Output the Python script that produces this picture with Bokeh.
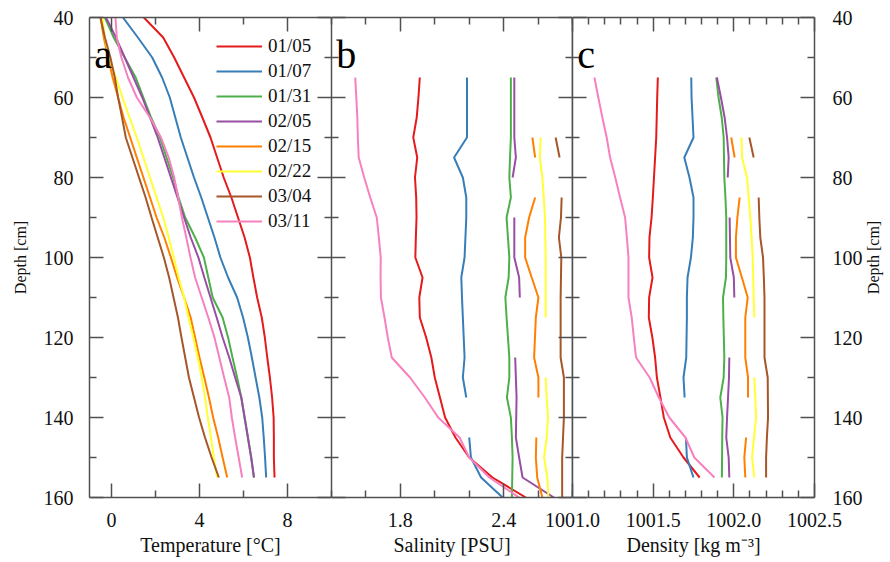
import math
from bokeh.plotting import figure
from bokeh.models import Range1d, LinearAxis, FixedTicker, PrintfTickFormatter, Legend, LegendItem, Label
from bokeh.layouts import row
from bokeh.embed import file_html
from bokeh.resources import INLINE

nan = float("nan")

DATES = ["01/05", "01/07", "01/31", "02/05", "02/15", "02/22", "03/04", "03/11"]
COLORS = ["#e41a1c", "#377eb8", "#4daf4a", "#984ea3", "#ff7f00", "#ffff33", "#a65628", "#f781bf"]

# ---------------- Temperature (panel a) ----------------
DEPTH_T = [40, 45, 50, 55, 60, 65, 70, 75, 80, 85, 90, 95, 100, 105, 110, 115, 120, 125, 130, 135, 140, 145, 150, 155]
TEMP_0105 = [1.47, 2.35, 2.85, 3.30, 3.75, 4.13, 4.50, 4.80, 5.10, 5.45, 5.75, 6.05, 6.29, 6.45, 6.62, 6.83, 6.97, 7.08, 7.20, 7.30, 7.37, 7.38, 7.38, 7.41]
TEMP_0107 = [0.52, 1.20, 1.85, 2.30, 2.65, 2.90, 3.15, 3.45, 3.75, 4.08, 4.38, 4.68, 4.95, 5.30, 5.71, 5.98, 6.20, 6.38, 6.55, 6.72, 6.85, 6.92, 6.98, 7.03]
TEMP_0131 = [-0.30, 0.10, 0.60, 1.10, 1.45, 1.80, 2.20, 2.50, 2.80, 3.05, 3.35, 3.80, 4.20, 4.40, 4.60, 5.05, 5.30, 5.50, 5.71, 5.90, 6.05, 6.20, 6.35, 6.47]
TEMP_0205 = [-0.25, 0.20, 0.60, 1.00, 1.40, 1.75, 2.10, 2.40, 2.70, 3.00, 3.30, 3.60, 3.95, 4.22, 4.50, 4.78, 5.05, 5.35, 5.62, 5.90, 6.05, 6.20, 6.35, 6.48]
TEMP_0215 = [-0.50, -0.35, -0.15, 0.05, 0.30, 0.55, 0.85, 1.15, 1.45, 1.75, 2.05, 2.40, 2.70, 2.98, 3.30, 3.60, 3.80, 4.00, 4.22, 4.43, 4.62, 4.85, 5.05, 5.26]
TEMP_0222 = [-0.42, -0.30, -0.10, 0.20, 0.50, 0.82, 1.15, 1.45, 1.75, 2.05, 2.35, 2.60, 2.83, 3.05, 3.30, 3.50, 3.72, 3.92, 4.10, 4.25, 4.38, 4.52, 4.65, 4.80]
TEMP_0304 = [-0.50, -0.30, -0.05, 0.15, 0.30, 0.48, 0.65, 0.95, 1.25, 1.55, 1.82, 2.10, 2.38, 2.62, 2.82, 3.02, 3.18, 3.35, 3.52, 3.75, 3.98, 4.25, 4.55, 4.88]
TEMP_0311 = [0.18, 0.24, 0.45, 0.75, 1.15, 1.75, 2.25, 2.60, 2.85, 3.03, 3.20, 3.40, 3.59, 3.80, 4.10, 4.40, 4.68, 4.90, 5.12, 5.35, 5.47, 5.62, 5.78, 5.94]

# ---------------- Salinity (panel b) ----------------
DEPTH_S = [55, 60, 65, 70, 75, 80, 85, 90, 95, 100, 105, 110, 115, 120, 125, 130, 135, 140, 145, 150, 155, 160]
SAL_0105 = [1.913, 1.905, 1.895, 1.875, 1.898, 1.885, 1.892, 1.894, 1.890, 1.887, 1.929, 1.910, 1.913, 1.950, 1.980, 2.000, 2.030, 2.060, 2.120, 2.200, 2.335, 2.529]
SAL_0107 = [2.187, 2.187, 2.187, 2.187, 2.112, 2.163, 2.183, 2.183, 2.178, 2.173, 2.154, 2.158, 2.163, 2.168, 2.173, 2.163, 2.183, nan, 2.200, 2.210, 2.269, 2.394]
SAL_0131 = [2.442, 2.442, 2.442, 2.442, 2.437, 2.433, 2.442, 2.417, 2.425, 2.433, 2.429, 2.410, 2.417, 2.425, 2.433, 2.433, 2.419, 2.442, 2.448, 2.452, 2.450, 2.448]
SAL_0205 = [2.462, 2.462, 2.462, 2.462, 2.471, 2.452, nan, 2.462, 2.462, 2.462, 2.490, 2.494, nan, nan, 2.467, 2.471, 2.475, 2.473, 2.471, 2.490, 2.510, 2.692]
SAL_0215 = [nan, nan, nan, 2.567, 2.583, nan, 2.583, 2.548, 2.525, 2.525, 2.563, 2.602, 2.587, 2.582, 2.577, 2.602, 2.602, nan, 2.590, 2.587, 2.595, 2.625]
SAL_0222 = [nan, nan, nan, 2.615, 2.610, 2.625, 2.633, 2.640, 2.642, 2.644, 2.644, 2.644, 2.644, nan, nan, 2.644, 2.650, 2.658, 2.650, 2.635, 2.654, 2.660]
SAL_0304 = [nan, nan, nan, 2.702, 2.725, nan, 2.737, 2.733, 2.721, 2.735, 2.733, 2.731, 2.731, 2.731, 2.731, 2.750, 2.750, 2.750, 2.745, 2.740, 2.740, 2.740]
SAL_0311 = [1.538, 1.544, 1.550, 1.553, 1.558, 1.590, 1.625, 1.663, 1.675, 1.686, 1.685, 1.687, 1.708, 1.727, 1.750, 1.856, 1.942, 2.020, 2.144, 2.200, 2.317, 2.490]

# ---------------- Density (panel c) ----------------
DEPTH_D = [55, 60, 65, 70, 75, 80, 85, 90, 95, 100, 105, 110, 115, 120, 125, 130, 135, 140, 145, 150, 155]
DEN_0105 = [1001.529, 1001.525, 1001.522, 1001.519, 1001.512, 1001.505, 1001.498, 1001.490, 1001.477, 1001.475, 1001.496, 1001.475, 1001.473, 1001.495, 1001.512, 1001.523, 1001.545, 1001.566, 1001.606, 1001.688, 1001.788]
DEN_0107 = [1001.736, 1001.738, 1001.744, 1001.750, 1001.693, 1001.725, 1001.750, 1001.750, 1001.746, 1001.734, 1001.713, 1001.709, 1001.709, 1001.707, 1001.705, 1001.688, 1001.695, nan, 1001.703, 1001.709, 1001.750]
DEN_0131 = [1001.891, 1001.905, 1001.925, 1001.937, 1001.939, 1001.941, 1001.948, 1001.953, 1001.953, 1001.953, 1001.951, 1001.933, 1001.935, 1001.938, 1001.941, 1001.937, 1001.916, 1001.930, 1001.928, 1001.927, 1001.926]
DEN_0205 = [1001.895, 1001.920, 1001.943, 1001.958, 1001.968, 1001.962, nan, 1001.974, 1001.976, 1001.978, 1002.000, 1002.003, nan, nan, 1001.972, 1001.970, 1001.964, 1001.958, 1001.953, 1001.968, 1001.972]
DEN_0215 = [nan, nan, nan, 1001.984, 1002.005, nan, 1002.036, 1002.022, 1002.013, 1002.013, 1002.050, 1002.086, 1002.071, 1002.071, 1002.071, 1002.088, 1002.088, nan, 1002.076, 1002.065, 1002.071]
DEN_0222 = [nan, nan, nan, 1002.047, 1002.051, 1002.082, 1002.092, 1002.102, 1002.110, 1002.117, 1002.120, 1002.123, 1002.127, nan, nan, 1002.127, 1002.133, 1002.138, 1002.125, 1002.113, 1002.127]
DEN_0304 = [nan, nan, nan, 1002.096, 1002.123, nan, 1002.154, 1002.158, 1002.164, 1002.181, 1002.186, 1002.190, 1002.190, 1002.190, 1002.190, 1002.210, 1002.211, 1002.212, 1002.205, 1002.200, 1002.200]
DEN_0311 = [1001.136, 1001.160, 1001.185, 1001.212, 1001.233, 1001.265, 1001.295, 1001.326, 1001.337, 1001.347, 1001.347, 1001.347, 1001.367, 1001.380, 1001.394, 1001.478, 1001.535, 1001.600, 1001.700, 1001.755, 1001.880]

# ---------------- Axes / ticks ----------------
DEPTH_TICKS = [40, 60, 80, 100, 120, 140, 160]
DEPTH_MINOR = [50, 70, 90, 110, 130, 150]
T_TICKS = [0, 4, 8]
T_MINOR = [2, 6, 10]
S_TICKS = [1.8, 2.4]
S_MINOR = [1.4, 1.6, 2.0, 2.2, 2.6, 2.8]
D_TICKS = [1001.0, 1001.5, 1002.0, 1002.5]
D_MINOR = [1001.1, 1001.2, 1001.3, 1001.4, 1001.6, 1001.7, 1001.8, 1001.9, 1002.1, 1002.2, 1002.3, 1002.4]

FONT = "Liberation Serif"
AXC = "#505050"
TXT = "#111111"
TICK_FS = "20px"
TITLE_FS = "20px"
YTITLE_FS = "16px"
H = 561
B_TOP = 17
B_BOTTOM = H - B_TOP - 480


def mk_axis(ticker, fmt=None, labeled=False, standoff=15, title=None, title_fs=TITLE_FS, title_standoff=4):
    kw = dict(ticker=ticker)
    if fmt is not None:
        kw["formatter"] = fmt
    ax = LinearAxis(**kw)
    ax.axis_line_color = AXC
    ax.axis_line_width = 1.5
    ax.major_tick_in = 14
    ax.major_tick_out = 0
    ax.minor_tick_in = 7
    ax.minor_tick_out = 0
    ax.major_tick_line_color = AXC
    ax.minor_tick_line_color = AXC
    ax.major_tick_line_width = 1.5
    ax.minor_tick_line_width = 1.5
    if labeled:
        ax.major_label_text_font = FONT
        ax.major_label_text_font_size = TICK_FS
        ax.major_label_text_color = TXT
        ax.major_label_standoff = standoff
    else:
        ax.major_label_text_color = None
        ax.major_label_text_font_size = "1px"
        ax.major_label_standoff = 0
    if title:
        ax.axis_label = title
        ax.axis_label_text_font = FONT
        ax.axis_label_text_font_style = "normal"
        ax.axis_label_text_font_size = title_fs
        ax.axis_label_text_color = TXT
        ax.axis_label_standoff = title_standoff
    return ax


def mk_panel(x_range, width, b_left, b_right):
    p = figure(width=width, height=H, x_range=x_range, y_range=Range1d(160, 40),
               x_axis_location=None, y_axis_location=None,
               output_backend="svg", toolbar_location=None,
               min_border_left=b_left, min_border_right=b_right,
               min_border_top=B_TOP, min_border_bottom=B_BOTTOM)
    p.grid.visible = False
    p.outline_line_color = None
    return p


def depth_ticker():
    return FixedTicker(ticks=DEPTH_TICKS, minor_ticks=DEPTH_MINOR)


def panel_letter(p, xr, letter):
    lab = Label(x=xr.start + 0.02 * (xr.end - xr.start), y=49.3, text=letter,
                text_font=FONT, text_font_size="40px", text_color="#000000",
                text_baseline="alphabetic", text_align="left")
    p.add_layout(lab)


# ---------------- Panel a ----------------
xr_a = Range1d(-1, 10)
pa = mk_panel(xr_a, 89 + 242, 89, 0)
t_ticker = FixedTicker(ticks=T_TICKS, minor_ticks=T_MINOR)
pa.add_layout(mk_axis(t_ticker, labeled=True, title="Temperature [°C]"), "below")
pa.add_layout(mk_axis(t_ticker), "above")
pa.add_layout(mk_axis(depth_ticker(), labeled=True, standoff=16, title="Depth [cm]",
                      title_fs=YTITLE_FS, title_standoff=12), "left")
pa.add_layout(mk_axis(depth_ticker()), "right")

temps = [TEMP_0105, TEMP_0107, TEMP_0131, TEMP_0205, TEMP_0215, TEMP_0222, TEMP_0304, TEMP_0311]
items = []
for lab, col, vals in zip(DATES, COLORS, temps):
    r = pa.line(x=vals, y=DEPTH_T, line_color=col, line_width=2)
    items.append(LegendItem(label=lab, renderers=[r]))

legend = Legend(items=items, location=(127, 265), padding=0, margin=0, spacing=3,
                glyph_width=46, glyph_height=20, label_height=20, label_standoff=6,
                label_text_font=FONT, label_text_font_size="19px", label_text_color=TXT,
                border_line_color=None, background_fill_alpha=0)
pa.add_layout(legend)
panel_letter(pa, xr_a, "a")

# ---------------- Panel b ----------------
xr_b = Range1d(1.4, 2.8)
pb = mk_panel(xr_b, 241, 0, 0)
s_ticker = FixedTicker(ticks=S_TICKS, minor_ticks=S_MINOR)
pb.add_layout(mk_axis(s_ticker, fmt=PrintfTickFormatter(format="%.1f"), labeled=True,
                      title="Salinity [PSU]"), "below")
pb.add_layout(mk_axis(s_ticker), "above")
pb.add_layout(mk_axis(depth_ticker()), "left")
pb.add_layout(mk_axis(depth_ticker()), "right")
sals = [SAL_0105, SAL_0107, SAL_0131, SAL_0205, SAL_0215, SAL_0222, SAL_0304, SAL_0311]
for col, vals in zip(COLORS, sals):
    pb.line(x=vals, y=DEPTH_S, line_color=col, line_width=2)
panel_letter(pb, xr_b, "b")

# ---------------- Panel c ----------------
xr_c = Range1d(1001.0, 1002.5)
pc = mk_panel(xr_c, 40 + 242 + 65, 40, 65)
pc.margin = (0, 0, 0, -40)
pc.background_fill_alpha = 0
pc.border_fill_alpha = 0
d_ticker = FixedTicker(ticks=D_TICKS, minor_ticks=D_MINOR)
pc.add_layout(mk_axis(d_ticker, fmt=PrintfTickFormatter(format="%.1f"), labeled=True,
                      title="Density [kg m\u207b\u00b3]"), "below")
pc.add_layout(mk_axis(d_ticker), "above")
pc.add_layout(mk_axis(depth_ticker()), "left")
pc.add_layout(mk_axis(depth_ticker(), labeled=True, standoff=18), "right")
dens = [DEN_0105, DEN_0107, DEN_0131, DEN_0205, DEN_0215, DEN_0222, DEN_0304, DEN_0311]
for col, vals in zip(COLORS, dens):
    pc.line(x=vals, y=DEPTH_D, line_color=col, line_width=2)
panel_letter(pc, xr_c, "c")

# ---------------- right-hand depth title (reads bottom-to-top) ----------------
pt = figure(width=26, height=H, x_range=Range1d(0, 1), y_range=Range1d(160, 40),
            x_axis_location=None, y_axis_location=None,
            output_backend="svg", toolbar_location=None,
            min_border_left=24, min_border_right=0,
            min_border_top=B_TOP, min_border_bottom=B_BOTTOM)
pt.grid.visible = False
pt.outline_line_color = None
pt.background_fill_alpha = 0
pt.border_fill_alpha = 0
pt.margin = (0, 0, 0, -20)
ax_t = LinearAxis(ticker=FixedTicker(ticks=[], minor_ticks=[]))
ax_t.axis_line_color = None
ax_t.major_tick_line_color = None
ax_t.minor_tick_line_color = None
ax_t.major_tick_in = 0
ax_t.major_tick_out = 0
ax_t.minor_tick_in = 0
ax_t.minor_tick_out = 0
ax_t.major_label_text_color = None
ax_t.major_label_text_font_size = "1px"
ax_t.major_label_standoff = 0
ax_t.axis_label = "Depth [cm]"
ax_t.axis_label_text_font = FONT
ax_t.axis_label_text_font_style = "normal"
ax_t.axis_label_text_font_size = YTITLE_FS
ax_t.axis_label_text_color = TXT
ax_t.axis_label_standoff = 2
pt.add_layout(ax_t, "left")

layout = row(pa, pb, pc, pt, spacing=0)
open("out.html", "w").write(file_html(layout, INLINE))
